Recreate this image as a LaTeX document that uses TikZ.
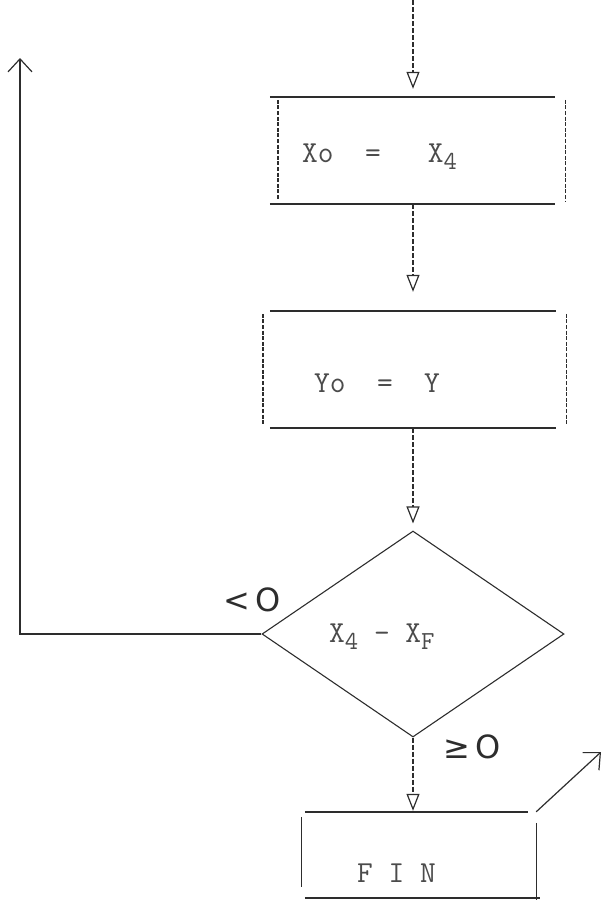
\documentclass[tikz,border=0pt]{standalone}
\usepackage{fontspec}
\usepackage{xcolor}
\newfontfamily\handfont{DejaVu Sans}
\definecolor{InkGray}{RGB}{45,45,45}
\definecolor{TypeGray}{RGB}{75,75,75}
\usetikzlibrary{
  shapes.geometric,
  arrows.meta,
  positioning, calc
}
% typed subscript: a lowered character
\newcommand{\lowered}[1]{\raisebox{-7pt}{\fontsize{26}{30}\selectfont #1}}
\tikzset{
  % Typed box (frame drawn line by line)
  typedbox/.style={rectangle, draw=none, inner sep=0pt},
  typedline/.style={line width=1.7pt, InkGray},
  typedside/.style={line width=1.4pt, InkGray, dash pattern=on 4pt off 1.6pt},
  handline/.style={line width=1.2pt, InkGray},
  % Decision diamond
  decide/.style={
    diamond, draw=InkGray, line width=1.1pt,
    minimum width=302pt, minimum height=206pt, inner sep=0pt
  },
  % Arrows
  flowarr/.style={line width=1.3pt, InkGray, dash pattern=on 5pt off 2pt,
    -{Triangle[open, length=17pt, width=13pt, line width=1.2pt]}},
  handarr/.style={line width=1.2pt, InkGray,
    -{Straight Barb[length=13pt, width=24pt, line width=1.2pt]}},
  % Texts
  typed/.style={font=\fontsize{30.5}{36}\selectfont\ttfamily, TypeGray,
    inner sep=0pt, anchor=west},
  handlbl/.style={font=\fontsize{32}{36}\selectfont\handfont, InkGray, inner sep=0pt},
}
\begin{document}
\begin{tikzpicture}[x=1pt, y=-1pt]
  \useasboundingbox (0,0) rectangle (607,906);

  %% Boxes and test
  \node[typedbox, minimum width=287pt, minimum height=107pt] (xinit) at (421.5,150.5) {};
  \node[typedbox, minimum width=303pt, minimum height=117pt] (yinit) at (414.5,369.5) {};
  \node[decide] (test) at (413,634) {};
  \node[typedbox, minimum width=234pt, minimum height=86pt] (fin) at (419,855) {};

  %% Typed frames: underscores on top and bottom, dotted sides
  \foreach \b/\dl in {xinit/-8, yinit/7}{
    \draw[typedline] ($(\b.north west)+(\dl,0)$) -- ($(\b.north east)+(-10,0)$);
    \draw[typedline] ($(\b.south west)+(\dl,0)$) -- ($(\b.south east)+(-10,0)$);
    \draw[typedside] ($(\b.north west)+(0,3)$) -- ($(\b.south west)+(0,-4)$);
    \draw[typedside] ($(\b.north east)+(0,3)$) -- ($(\b.south east)+(0,-3)$);
  }
  %% FIN frame
  \draw[typedline] ($(fin.north west)+(3,0)$) -- ($(fin.north east)+(-8,0)$);
  \draw[typedline] ($(fin.south west)+(3,0)$) -- ($(fin.south east)+(4,0)$);
  \draw[handline] ($(fin.north west)+(0,5)$) -- ($(fin.south west)+(0,-11)$);
  \draw[handline] ($(fin.north east)+(0,11)$) -- ($(fin.south east)+(0,2)$);

  %% Texts
  \node[typed] (xinitTxt) at (302,157) {Xo~~=~~~X\lowered{4}};
  \node[typed] (yinitTxt) at (314,383) {Yo~~=~~Y};
  \node[typed] (testTxt) at (329,637) {X\lowered{4}~-~X\lowered{F}};
  \node[typed] (finTxt) at (357,873) {F~I~N};
  \node[handlbl] (ltLbl) at (252,600) {<\,O};
  \node[handlbl] (geLbl) at (472,747) {≥\,O};

  %% Flow
  \coordinate (entry) at (413,0);
  \draw[flowarr, shorten >=8pt] (entry) -- (entry |- xinit.north);
  \draw[flowarr, shorten >=19pt] (entry |- xinit.south) -- (entry |- yinit.north);
  \draw[flowarr, shorten >=7pt] (entry |- yinit.south) -- (test.north);
  \draw[flowarr, shorten >=1pt] (test.south) -- (test.south |- fin.north);

  %% Loop back and exit
  \coordinate (loopEnd) at (20,58);
  \draw[handarr] (test.west) -| (loopEnd);
  \coordinate (exitEnd) at (601,752);
  \draw[handarr] (fin.north east) -- (exitEnd);
\end{tikzpicture}
\end{document}
